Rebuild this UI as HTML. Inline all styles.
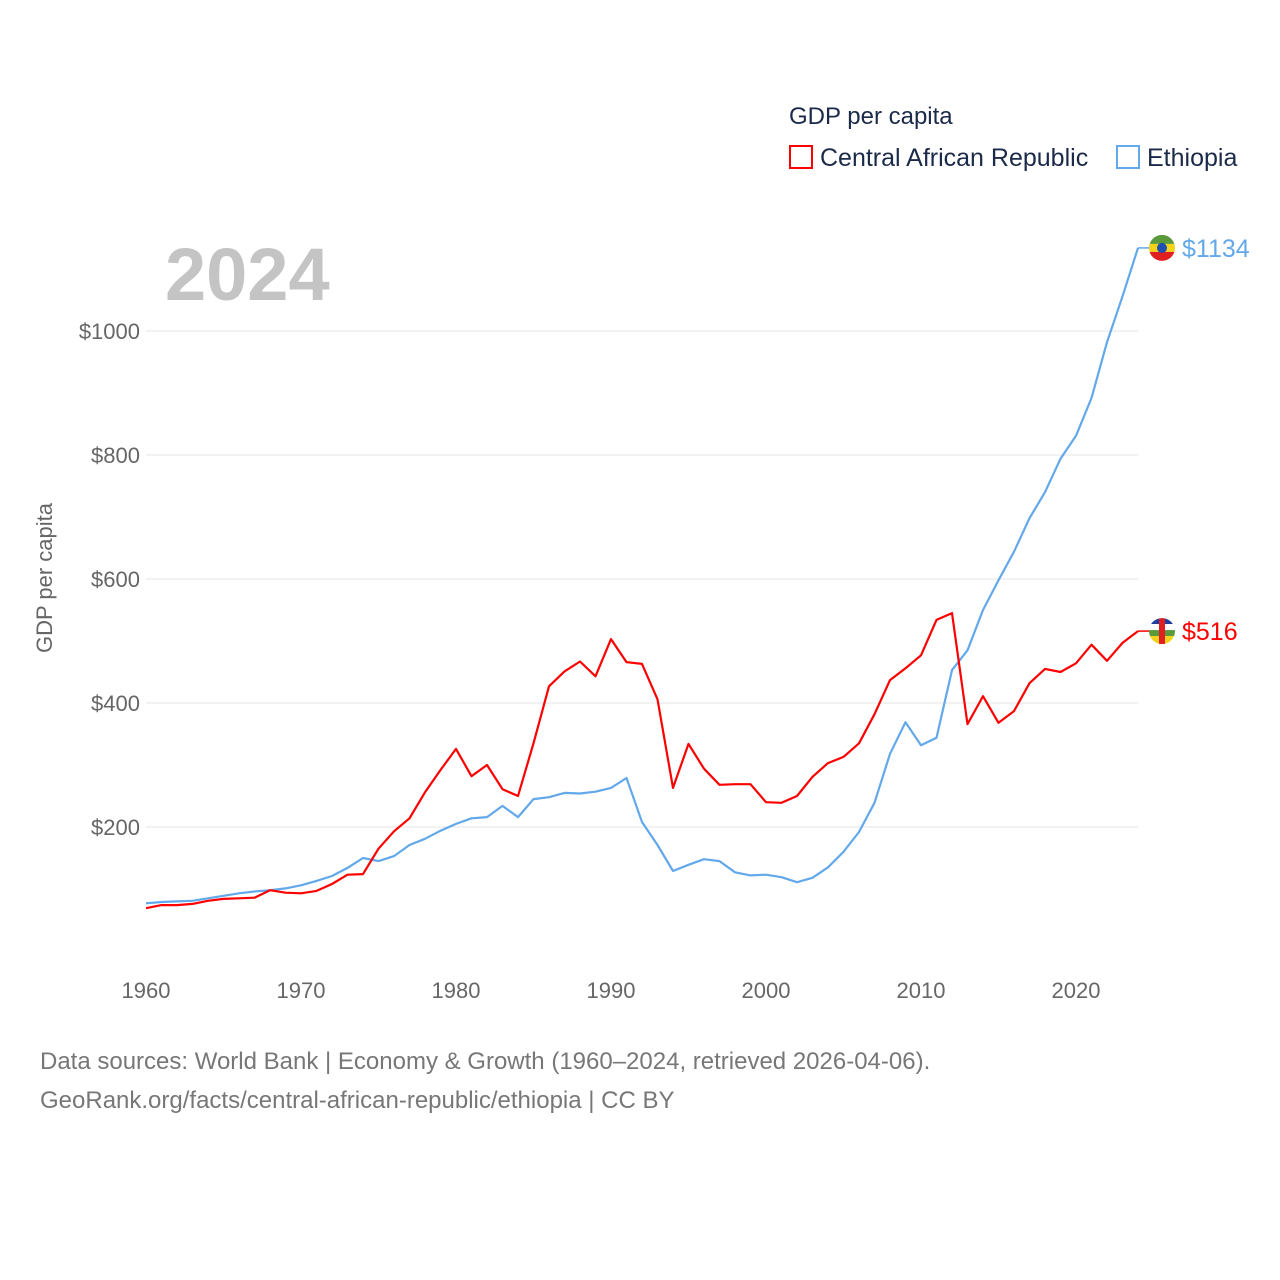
<!DOCTYPE html>
<html><head><meta charset="utf-8"><style>
body{margin:0;background:#fff;font-family:"Liberation Sans",sans-serif}
svg{display:block}
</style></head><body>
<svg id="chart" width="1280" height="1280" viewBox="0 0 1280 1280">
<g id="grid"></g>
<g id="yticks"></g>
<g id="xticks"></g>
<text x="52" y="578" transform="rotate(-90 52 578)" text-anchor="middle" font-size="22" fill="#666">GDP per capita</text>
<text x="165" y="300" font-size="74" font-weight="bold" fill="#c4c4c4">2024</text>
<g>
<text x="789" y="124" font-size="24" fill="#1b2a49">GDP per capita</text>
<g><rect x="790" y="146" width="22" height="22" fill="none" stroke="#f00" stroke-width="2"/><text x="820" y="166" font-size="25" fill="#1b2a49">Central African Republic</text></g>
<g><rect x="1117" y="146" width="22" height="22" fill="none" stroke="#62a8ea" stroke-width="2"/><text x="1147" y="166" font-size="25" fill="#1b2a49">Ethiopia</text></g>
</g>
<g id="series"></g>
<text x="40" y="1069" font-size="24" fill="#777">Data sources: World Bank | Economy &amp; Growth (1960–2024, retrieved 2026-04-06).</text>
<text x="40" y="1108" font-size="24" fill="#777">GeoRank.org/facts/central-african-republic/ethiopia | CC BY</text>
</svg>
<script>
const years=[];for(let y=1960;y<=2024;y++)years.push(y);
const carValues=[69,74,74,76,81,84,85,86,98,94,93,97,108,123,124,165,193,214,256,292,326,282,300,261,250,335,427,451,467,443,503,466,463,406,263,334,294,268,269,269,240,239,250,281,303,313,335,382,437,456,477,534,545,366,411,368,387,432,455,450,464,494,468,497,516];
const ethValues=[77,79,80,81,85,89,93,96,98,101,106,113,121,134,150,145,153,171,181,194,205,214,216,234,216,245,248,255,254,257,263,279,208,171,129,139,148,145,127,122,123,119,111,118,135,160,192,239,318,369,332,344,453,485,550,598,644,698,740,794,831,892,982,1056,1134];
const yTicks=[200,400,600,800,1000];
const xTicks=[1960,1970,1980,1990,2000,2010,2020];
const NS="http://www.w3.org/2000/svg";
const X=v=>146+(v-1960)*15.5;
const Y=v=>951-v*0.62;
function mk(tag,attrs,parent,text){const e=document.createElementNS(NS,tag);for(const k in attrs)e.setAttribute(k,attrs[k]);if(text!==undefined)e.textContent=text;parent.appendChild(e);return e;}
const svg=document.getElementById('chart');
const grid=document.getElementById('grid'),yt=document.getElementById('yticks'),xt=document.getElementById('xticks'),ser=document.getElementById('series');
const defs=mk('defs',{},svg);
yTicks.forEach(t=>{
 const l=mk('line',{x1:146,x2:1138,y1:Y(t),y2:Y(t),stroke:'#e6e6e6','stroke-width':1},grid);
 
 
 const tx=mk('text',{x:140,y:Y(t)+8,'text-anchor':'end','font-size':22,fill:'#666'},yt,'$'+t);
 
 
});
xTicks.forEach(t=>{
 const tx=mk('text',{x:X(t),y:998,'text-anchor':'middle','font-size':22,fill:'#666'},xt,String(t));
 
 
});
function line(vals,color,name){
 const d=vals.map((v,i)=>(i?'L':'M')+X(years[i]).toFixed(1)+' '+Y(v).toFixed(1)).join(' ');
 const p=mk('path',{d:d,fill:'none',stroke:color,'stroke-width':2.2,'stroke-linejoin':'round'},ser);
 
 
 const last=vals[vals.length-1],ly=Y(last);
 const c=mk('line',{x1:X(2024),x2:1150,y1:ly,y2:ly,stroke:color,'stroke-width':1.5},ser);
 
 
 const t=mk('text',{x:1182,y:ly+9,'font-size':25,fill:color},ser,'$'+last);
 
 
 const cp=mk('clipPath',{id:'clip-'+name},defs);
 mk('circle',{cx:1162,cy:ly,r:13},cp);
 const g=mk('g',{'clip-path':'url(#clip-'+name+')'},ser);
 
 
 return [ly,g];
}
const [ly1,f1]=line(ethValues,'#62a8ea','ethiopia');
const [ly2,f2]=line(carValues,'#ff0000','car');
mk('rect',{x:1149,y:ly1-13,width:26,height:9,fill:'#5a9a3a'},f1);
mk('rect',{x:1149,y:ly1-4,width:26,height:8,fill:'#f3d21a'},f1);
mk('rect',{x:1149,y:ly1+4,width:26,height:10,fill:'#e02020'},f1);
mk('circle',{cx:1162,cy:ly1,r:5,fill:'#1f4fb0'},f1);
mk('rect',{x:1149,y:ly2-13,width:26,height:6,fill:'#1f3f9f'},f2);
mk('rect',{x:1149,y:ly2-7,width:26,height:6,fill:'#fff'},f2);
mk('rect',{x:1149,y:ly2-1,width:26,height:6,fill:'#5a9a3a'},f2);
mk('rect',{x:1149,y:ly2+5,width:26,height:8,fill:'#f3d21a'},f2);
mk('rect',{x:1159,y:ly2-13,width:6,height:26,fill:'#e02020'},f2);
</script>
</body></html>
